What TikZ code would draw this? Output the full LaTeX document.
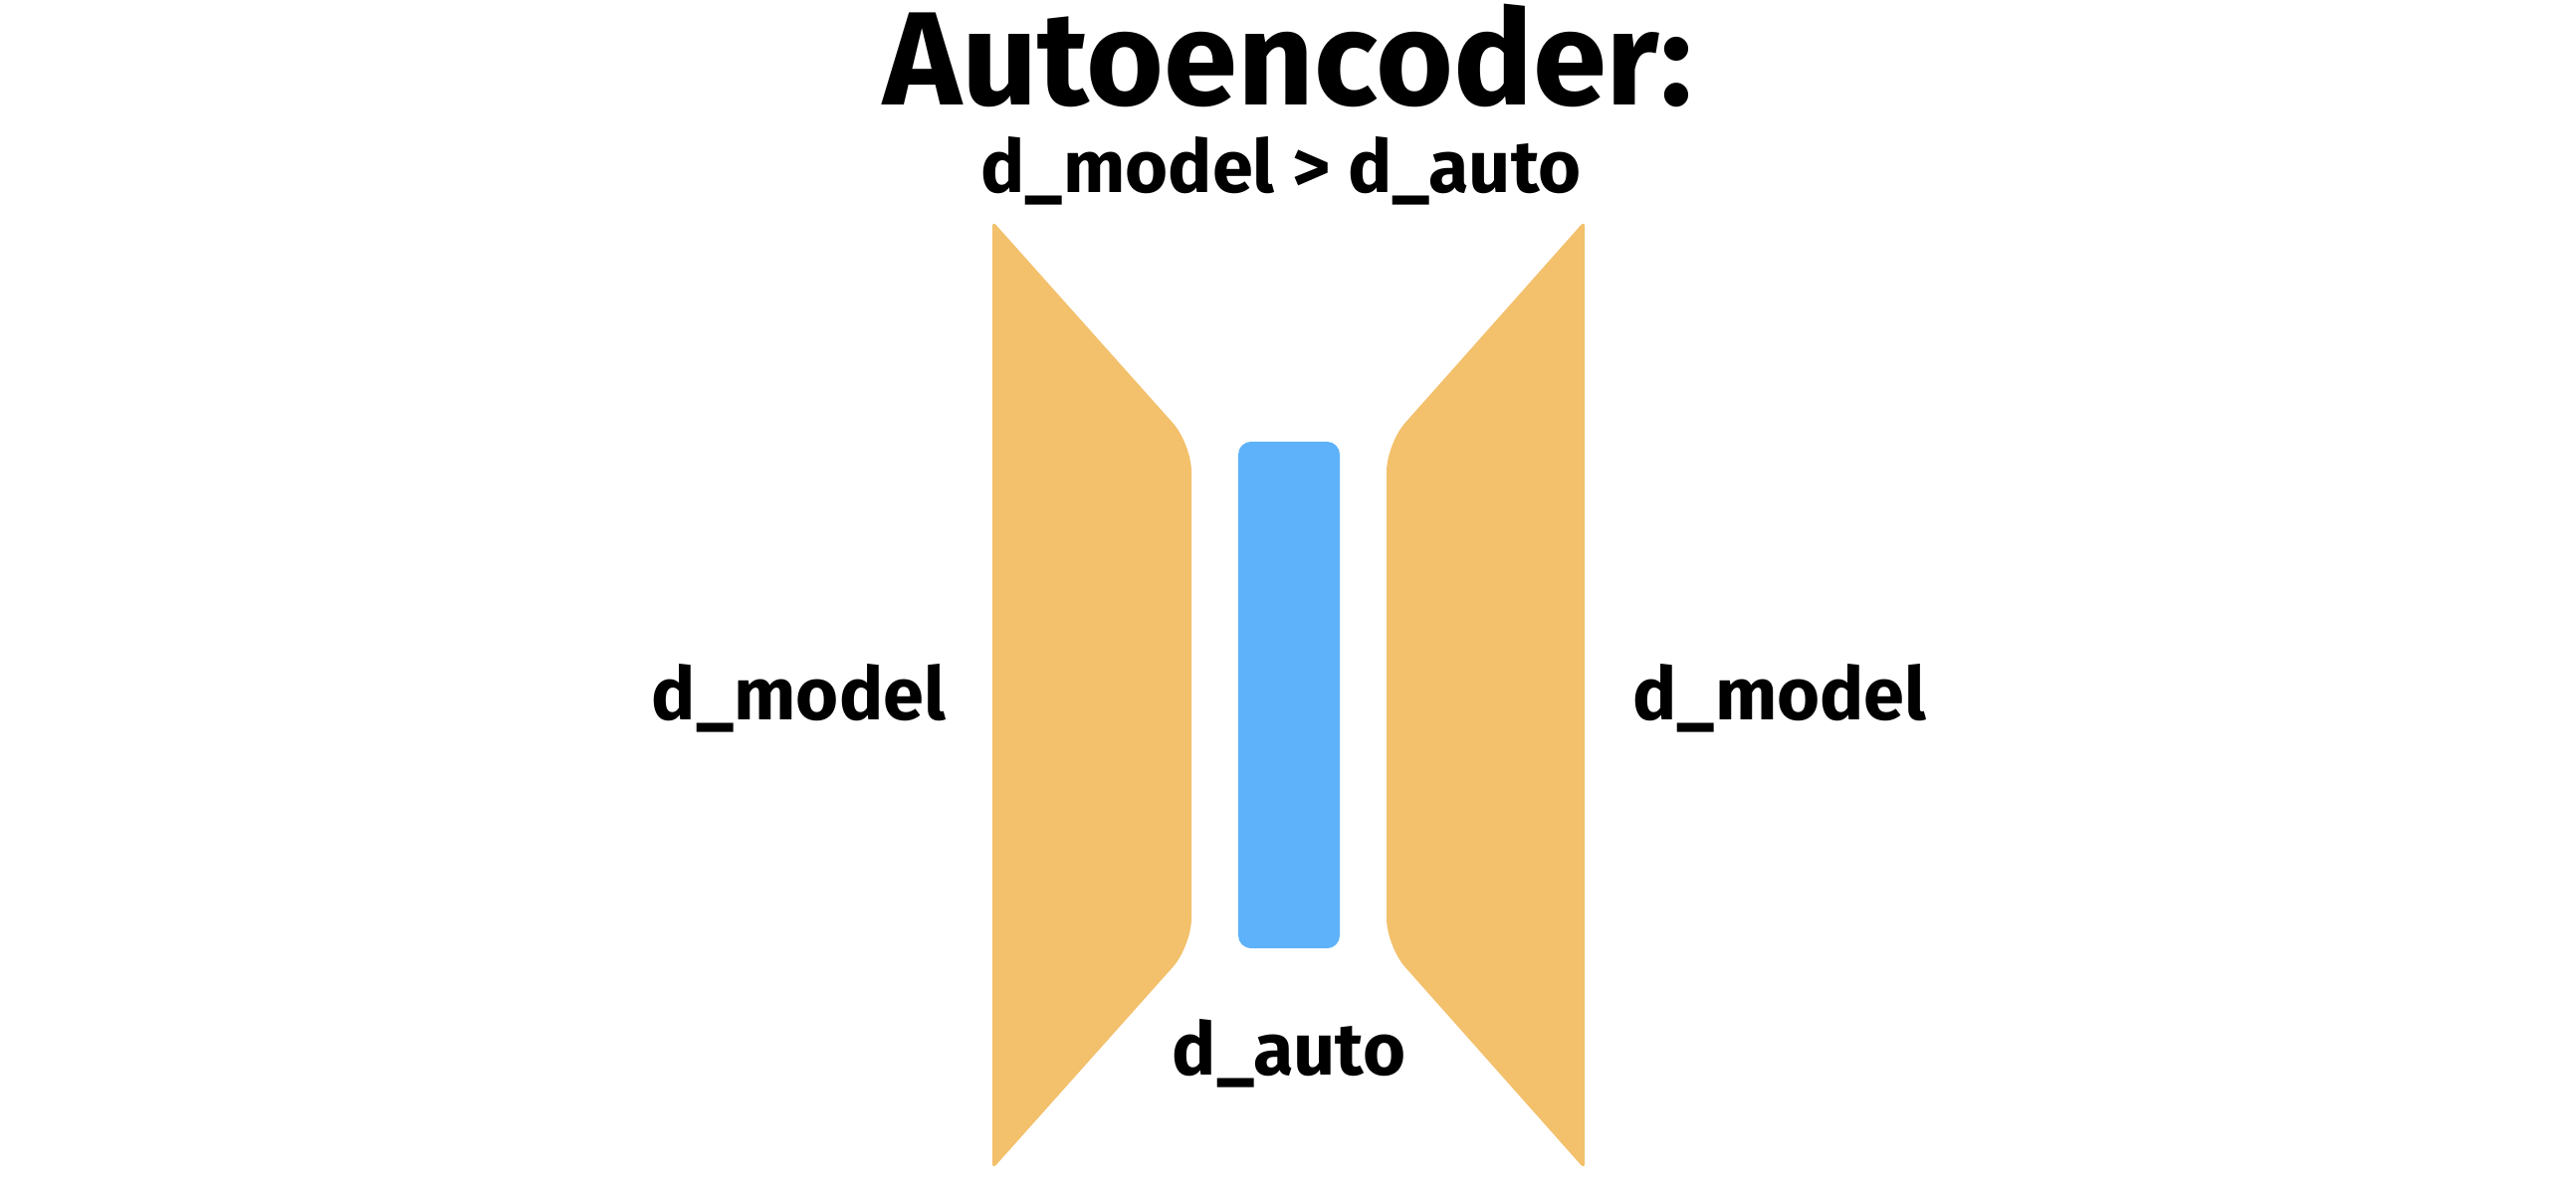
\documentclass[tikz,border=0pt]{standalone}
\usepackage{fontspec}
\setmainfont{Fira Sans}
\definecolor{encorange}{HTML}{F3C06B}
\definecolor{latentblue}{HTML}{5EB2F9}
\begin{document}
\begin{tikzpicture}[x=0.01cm,y=-0.01cm,
  title/.style={inner sep=0pt,anchor=base,font=\fontsize{38}{44}\selectfont\bfseries},
  lbl/.style={inner sep=0pt,anchor=base,font=\fontsize{21}{25}\selectfont\bfseries},
  wing/.style={fill=encorange},
  latent/.style={fill=latentblue,rounded corners=3.7pt}]
\useasboundingbox (0,0) rectangle (2588,1194);
% left trapezoid (encoder)
\fill[wing] (997,700) [rounded corners=1.6pt] -- (997,222) [rounded corners=8pt] -- (1197,446) -- (1197,951) [rounded corners=1.6pt] -- (997,1175) [sharp corners] -- cycle;
% right trapezoid (decoder)
\fill[wing] (1592,700) [rounded corners=1.6pt] -- (1592,222) [rounded corners=8pt] -- (1393,446) -- (1393,951) [rounded corners=1.6pt] -- (1592,1175) [sharp corners] -- cycle;
% latent
\node[latent,minimum width=1.02cm,minimum height=5.09cm,inner sep=0pt] (lat) at (1295,698.5) {};
\node[title] (t) at (1294,106) {Autoencoder:};
\node[lbl] (s) at (1287,193) {d\_model > d\_auto};
\node[lbl] (l) at (802.5,723) {d\_model};
\node[lbl] (r) at (1788,723) {d\_model};
\node[lbl] (a) at (1295,1080) {d\_auto};
\end{tikzpicture}
\end{document}
